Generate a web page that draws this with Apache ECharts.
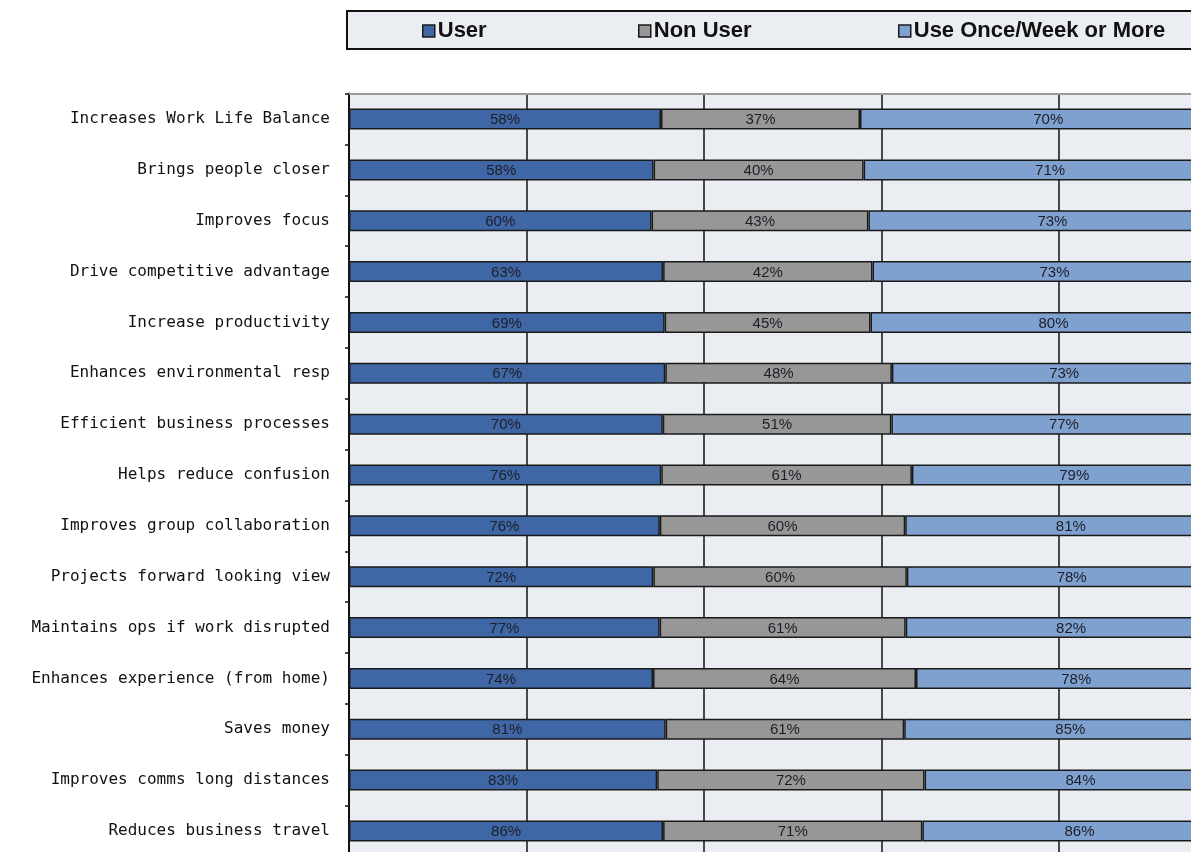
<!DOCTYPE html>
<html>
<head>
<meta charset="utf-8">
<script src="https://cdn.jsdelivr.net/npm/echarts@6/dist/echarts.min.js"></script>
<style>
html,body{margin:0;padding:0;background:#fff;}
#chart{width:1191px;height:852px;}
</style>
</head>
<body>
<div id="chart"></div>
<script>
const categories = [
  'Increases Work Life Balance',
  'Brings people closer',
  'Improves focus',
  'Drive competitive advantage',
  'Increase productivity',
  'Enhances environmental resp',
  'Efficient business processes',
  'Helps reduce confusion',
  'Improves group collaboration',
  'Projects forward looking view',
  'Maintains ops if work disrupted',
  'Enhances experience (from home)',
  'Saves money',
  'Improves comms long distances',
  'Reduces business travel'
];
const seriesNames = ['User', 'Non User', 'Use Once/Week or More'];
const userValues = [58, 58, 60, 63, 69, 67, 70, 76, 76, 72, 77, 74, 81, 83, 86];
const nonUserValues = [37, 40, 43, 42, 45, 48, 51, 61, 60, 60, 61, 64, 61, 72, 71];
const weeklyValues = [70, 71, 73, 73, 80, 73, 77, 79, 81, 78, 82, 78, 85, 84, 86];
const xTicks = [0, 20, 40, 60, 80, 100];

const colors = ['#3F66A5', '#979797', '#7FA1CF'];
const raw = [userValues, nonUserValues, weeklyValues];
const totals = categories.map((c, i) => userValues[i] + nonUserValues[i] + weeklyValues[i]);

const chart = echarts.init(document.getElementById('chart'), null, {renderer: 'canvas'});

const series = raw.map((vals, s) => ({
  name: seriesNames[s],
  type: 'bar',
  stack: 'total',
  barWidth: 21,
  data: vals.map((v, i) => v / totals[i] * 100),
  itemStyle: {color: colors[s], borderColor: '#1a1a1a', borderWidth: 1.5},
  label: {
    show: true,
    position: 'inside',
    color: '#1e1e28',
    fontFamily: 'Liberation Sans',
    fontSize: 15,
    offset: [0, 1],
    formatter: p => vals[p.dataIndex] + '%'
  },
  emphasis: {disabled: true},
  animation: false
}));

const legendLefts = [422, 638, 898];
const legends = seriesNames.map((n, i) => ({
  data: [n],
  left: legendLefts[i],
  top: 19,
  padding: 0,
  orient: 'horizontal',
  icon: 'rect',
  itemWidth: 12,
  itemHeight: 12,
  itemGap: 4,
  selectedMode: false,
  itemStyle: {borderColor: '#1a1a1a', borderWidth: 1.5},
  textStyle: {
    fontFamily: 'Liberation Sans',
    fontWeight: 'bold',
    fontSize: 22,
    color: '#111',
    lineHeight: 24,
    padding: [0, 0, 0, -2]
  }
}));

chart.setOption({
  backgroundColor: '#ffffff',
  animation: false,
  graphic: [{
    type: 'rect',
    z: 0,
    shape: {x: 347, y: 11, width: 900, height: 38},
    style: {fill: '#EAEDF1', stroke: '#111', lineWidth: 2}
  }],
  legend: legends,
  grid: {
    left: 349,
    top: 93.6,
    width: 887.5,
    height: 762.8,
    show: true,
    backgroundColor: '#EAEDF1',
    borderWidth: 0,
    containLabel: false,
    outerBoundsMode: 'none'
  },
  xAxis: {
    type: 'value',
    position: 'top',
    min: xTicks[0],
    max: xTicks[xTicks.length - 1],
    interval: xTicks[1] - xTicks[0],
    axisLine: {show: true, lineStyle: {color: '#9a9a9a', width: 2}},
    axisTick: {show: false},
    axisLabel: {show: false},
    splitLine: {show: true, lineStyle: {color: '#111', width: 1.5}}
  },
  yAxis: {
    type: 'category',
    inverse: true,
    data: categories,
    axisLine: {show: true, lineStyle: {color: '#111', width: 2}},
    axisTick: {show: true, length: 4, lineStyle: {color: '#111', width: 1.5}},
    axisLabel: {
      margin: 19,
      fontFamily: 'DejaVu Sans Mono',
      fontSize: 16,
      color: '#111'
    },
    splitLine: {show: false}
  },
  series: series
});
</script>
</body>
</html>
